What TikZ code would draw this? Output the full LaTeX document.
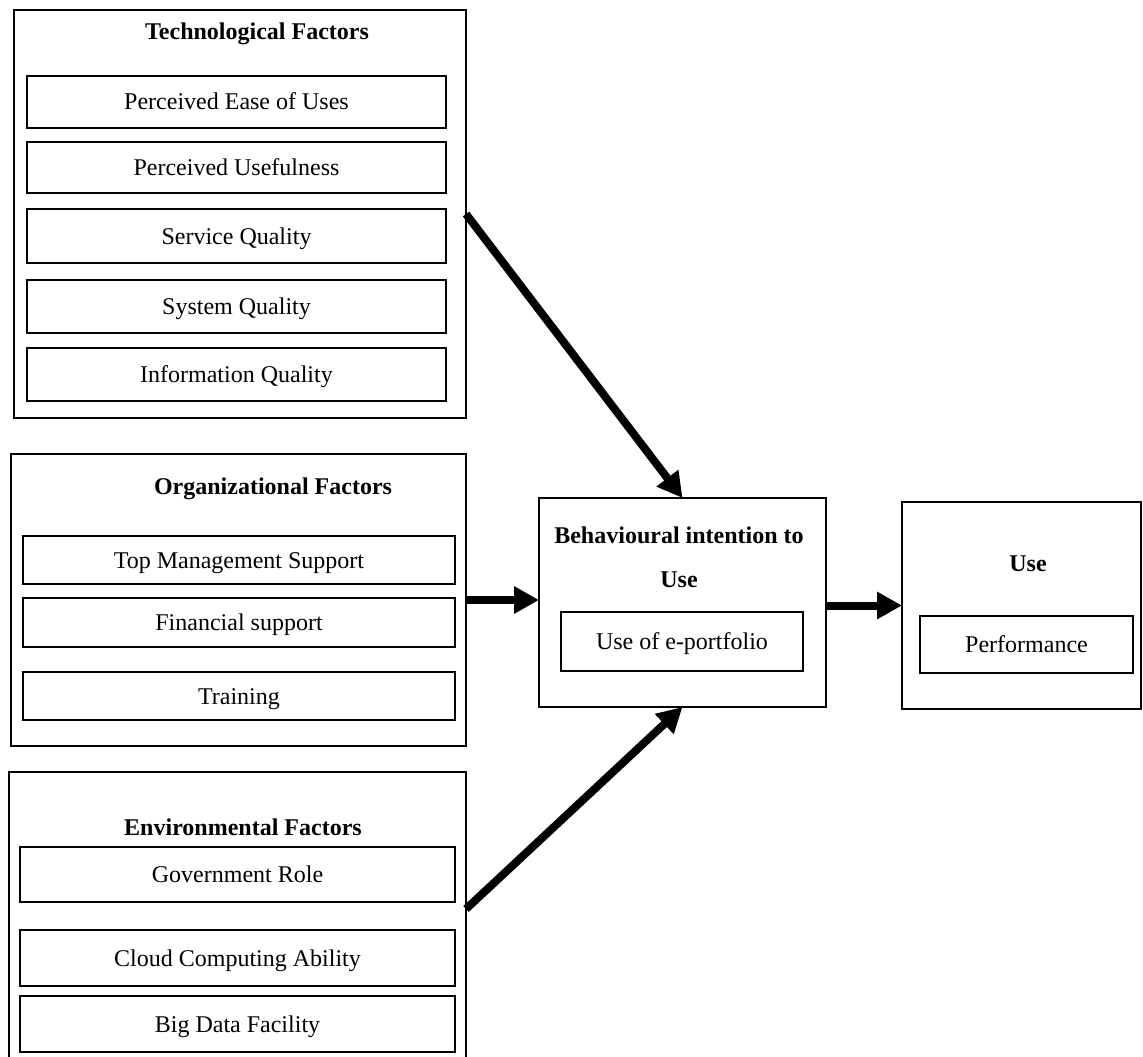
\documentclass[tikz,border=0pt]{standalone}
\usepackage{fontspec}
\setmainfont{Liberation Serif}
\usetikzlibrary{arrows.meta,calc}
\tikzset{
  outerbox/.style={draw, line width=2pt, inner sep=0pt, outer sep=0pt},
  innerbox/.style={draw, line width=2.2pt, inner sep=0pt, outer sep=0pt,
    text height=16pt, text depth=0pt, font=\fontsize{24}{28}\selectfont},
  titletext/.style={inner sep=0pt, anchor=base, font=\fontsize{24}{28}\selectfont\bfseries},
  bigarrow/.style={line width=8pt, -{Triangle[length=25pt,width=26pt]}}
}
\begin{document}
\begin{tikzpicture}[x=1pt,y=-1pt]
\useasboundingbox (0,0) rectangle (1143,1057);
\clip (0,0) rectangle (1143,1057);
\fill[white] (0,0) rectangle (1143,1057);

% Technological factors
\node[outerbox, minimum width=452pt, minimum height=408pt] (tech) at (240,214) {};
\node[titletext] (techt) at (257,40) {Technological Factors};
\node[innerbox, minimum width=419pt, minimum height=52pt] (ease) at (236.5,102) {Perceived Ease of Uses};
\node[innerbox, minimum width=419pt, minimum height=51pt] (useful) at (236.5,167.5) {Perceived Usefulness};
\node[innerbox, minimum width=419pt, minimum height=54pt] (service) at (236.5,236) {Service Quality};
\node[innerbox, minimum width=419pt, minimum height=53pt] (system) at (236.5,306.5) {System Quality};
\node[innerbox, minimum width=419pt, minimum height=53pt] (info) at (236.5,374.5) {Information Quality};

% Organizational factors
\node[outerbox, minimum width=455pt, minimum height=292pt] (org) at (238.5,600) {};
\node[titletext] (orgt) at (273,494) {Organizational Factors};
\node[innerbox, minimum width=432pt, minimum height=48pt] (topm) at (239,560) {Top Management Support};
\node[innerbox, minimum width=432pt, minimum height=49pt] (fin) at (239,622.5) {Financial support};
\node[innerbox, minimum width=432pt, minimum height=48pt] (train) at (239,696) {Training};

% Environmental factors
\node[outerbox, minimum width=457pt, minimum height=318pt] (env) at (237.5,931) {};
\node[titletext] (envt) at (243,835) {Environmental Factors};
\node[innerbox, minimum width=435pt, minimum height=55pt] (gov) at (237.5,874.5) {Government Role};
\node[innerbox, minimum width=435pt, minimum height=56pt] (cloud) at (237.5,958) {Cloud Computing Ability};
\node[innerbox, minimum width=435pt, minimum height=56pt] (big) at (237.5,1024) {Big Data Facility};

% Behavioural intention
\node[outerbox, minimum width=287pt, minimum height=209pt] (bi) at (682.5,602.5) {};
\node[titletext] (bit1) at (679,543) {Behavioural intention to};
\node[titletext] (bit2) at (679,587) {Use};
\node[innerbox, minimum width=242pt, minimum height=59pt] (eport) at (682,641.5) {Use of e-portfolio};

% Use
\node[outerbox, minimum width=239pt, minimum height=207pt] (use) at (1021.5,605.5) {};
\node[titletext] (uset) at (1028,571) {Use};
\node[innerbox, minimum width=213pt, minimum height=57pt] (perf) at (1026.5,644.5) {Performance};

% Connectors
\coordinate (envout) at ($(env.north east)+(0,137)$);
\draw[bigarrow] (tech.east) -- (bi.north);
\draw[bigarrow] (org.east) -- (org.east -| bi.west);
\draw[bigarrow] (envout) -- (bi.south);
\draw[bigarrow] (use.west -| bi.east) -- (use.west);
\end{tikzpicture}
\end{document}
